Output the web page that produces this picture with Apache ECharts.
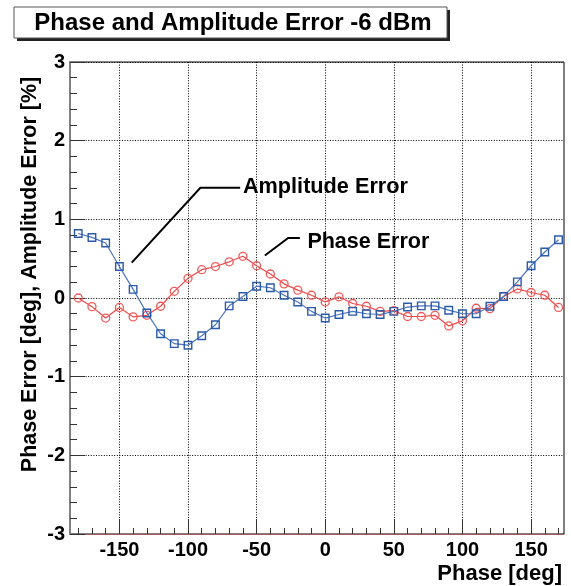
<!DOCTYPE html>
<html><head><meta charset="utf-8">
<script src="https://cdn.jsdelivr.net/npm/echarts@6/dist/echarts.min.js"></script>
<style>html,body{margin:0;padding:0;background:#fff}#c{width:571px;height:586px}</style>
</head><body><div id="c"></div>
<script>
// ---- data ----
const phaseDeg = [-180,-170,-160,-150,-140,-130,-120,-110,-100,-90,-80,-70,-60,-50,-40,-30,-20,-10,
                  0,10,20,30,40,50,60,70,80,90,100,110,120,130,140,150,160,170];
const amplitudeError = [0.82,0.77,0.70,0.40,0.11,-0.19,-0.455,-0.58,-0.60,-0.48,-0.34,-0.10,0.02,0.15,0.13,0.035,-0.05,-0.17,
                        -0.255,-0.21,-0.17,-0.20,-0.21,-0.17,-0.115,-0.10,-0.10,-0.155,-0.20,-0.20,-0.105,0.02,0.205,0.41,0.585,0.74];
const phaseError = [0.0,-0.11,-0.255,-0.12,-0.24,-0.22,-0.105,0.085,0.25,0.36,0.40,0.46,0.53,0.41,0.305,0.18,0.10,0.035,
                    -0.05,0.015,-0.07,-0.105,-0.17,-0.16,-0.235,-0.235,-0.22,-0.355,-0.29,-0.13,-0.135,0.02,0.115,0.07,0.035,-0.12];
const xMajorTicks = [-150,-100,-50,0,50,100,150];
const xMinorTicks = [-180,-170,-160,-140,-130,-120,-110,-90,-80,-70,-60,-40,-30,-20,-10,
                     10,20,30,40,60,70,80,90,110,120,130,140,160,170];
const titleText = 'Phase and Amplitude Error -6 dBm';
const xTitle = 'Phase [deg]';
const yTitle = 'Phase Error [deg], Amplitude Error [%]';
const ampLabel = 'Amplitude Error';
const phaseLabel = 'Phase Error';

// ---- layout / style ----
const FONT = '"Liberation Sans", Arial, Helvetica, sans-serif';
const X_MIN = -186, X_MAX = 174;
const GRID = {left: 70, right: 7, top: 62, bottom: 52};
const gridH = 586 - GRID.top - GRID.bottom;

const chart = echarts.init(document.getElementById('c'), null, {renderer: 'canvas'});
const dotted = {color: '#000', width: 1, type: [1, 1.6]};
const labelStyle = {color: '#000', fontFamily: FONT, fontWeight: 'bold', fontSize: 20};

chart.setOption({
  animation: false,
  backgroundColor: '#fff',
  grid: Object.assign({show: true, borderColor: '#000', borderWidth: 1, backgroundColor: 'transparent',
                       containLabel: false, outerBoundsMode: 'none'}, GRID),
  xAxis: [{
    type: 'value', min: X_MIN, max: X_MAX, position: 'bottom',
    axisLine: {show: true, onZero: false, lineStyle: {color: '#a05a5a', width: 1}},
    axisTick: {show: true, inside: true, length: 15, customValues: xMajorTicks, lineStyle: {color: '#333', width: 1}},
    minorTick: {show: false},
    axisLabel: Object.assign({customValues: xMajorTicks, margin: 6}, labelStyle),
    splitLine: {show: true, lineStyle: dotted}
  }, {
    type: 'value', min: X_MIN, max: X_MAX, position: 'top', offset: -gridH,
    axisLine: {show: false, onZero: false},
    axisTick: {show: true, inside: false, length: 6, customValues: xMinorTicks, lineStyle: {color: '#333', width: 1}},
    axisLabel: {show: false},
    splitLine: {show: false}
  }],
  yAxis: {
    type: 'value', min: -3, max: 3, interval: 1,
    axisLine: {show: true, onZero: false, lineStyle: {color: '#808080', width: 2}},
    axisTick: {show: true, inside: true, length: 15, lineStyle: {color: '#333', width: 1}},
    minorTick: {show: true, splitNumber: 5, length: 7, lineStyle: {color: '#333', width: 1}},
    axisLabel: Object.assign({margin: 5}, labelStyle),
    splitLine: {show: true, lineStyle: dotted}
  },
  series: [{
    name: 'Phase Error', type: 'line', xAxisIndex: 0,
    data: phaseDeg.map((x, i) => [x, phaseError[i]]),
    symbol: 'circle', symbolSize: 8,
    lineStyle: {color: '#e84848', width: 1.2},
    itemStyle: {color: 'transparent', borderColor: '#f05a5a', borderWidth: 1.3},
    z: 3
  }, {
    name: 'Amplitude Error', type: 'line', xAxisIndex: 0,
    data: phaseDeg.map((x, i) => [x, amplitudeError[i]]),
    symbol: 'rect', symbolSize: 7.5,
    lineStyle: {color: '#4a74c0', width: 1.2},
    itemStyle: {color: 'transparent', borderColor: '#2a5aa8', borderWidth: 1.4},
    z: 4
  }]
});

function px(p) { return chart.convertToPixel({gridIndex: 0}, p); }
const ampPath = [[-141, 0.45], [-91, 1.40], [-62, 1.40]];
const ampTextPos = [-60, 1.41];
const phPath = [[-44, 0.54], [-27, 0.763], [-18.5, 0.763]];
const phTextPos = [-13, 0.716];
const a = px(ampTextPos), p = px(phTextPos);

chart.setOption({
  graphic: [
    {type: 'rect', shape: {x: 17, y: 10, width: 433, height: 31}, style: {fill: '#222'}, z: 10},
    {type: 'rect', shape: {x: 14, y: 7, width: 433, height: 31}, style: {fill: '#fff', stroke: '#555', lineWidth: 1}, z: 11},
    {type: 'text', x: 233, y: 23, z: 12,
     style: {text: titleText, font: 'bold 24px ' + FONT, fill: '#000', align: 'center', verticalAlign: 'middle'}},
    {type: 'text', x: 30, y: 274.5, rotation: Math.PI / 2, z: 12,
     style: {text: yTitle, font: 'bold 21.5px ' + FONT, fill: '#000', align: 'center', verticalAlign: 'middle'}},
    {type: 'text', x: 562, y: 574, z: 12,
     style: {text: xTitle, font: 'bold 22px ' + FONT, fill: '#000', align: 'right', verticalAlign: 'middle'}},
    {type: 'polyline', shape: {points: ampPath.map(px)}, style: {stroke: '#000', lineWidth: 2, fill: null}, z: 12},
    {type: 'text', x: a[0], y: a[1], z: 12,
     style: {text: ampLabel, font: 'bold 21.7px ' + FONT, fill: '#000', align: 'left', verticalAlign: 'middle'}},
    {type: 'polyline', shape: {points: phPath.map(px)}, style: {stroke: '#000', lineWidth: 2, fill: null}, z: 12},
    {type: 'text', x: p[0], y: p[1], z: 12,
     style: {text: phaseLabel, font: 'bold 21.5px ' + FONT, fill: '#000', align: 'left', verticalAlign: 'middle'}}
  ]
});
</script>
</body></html>
